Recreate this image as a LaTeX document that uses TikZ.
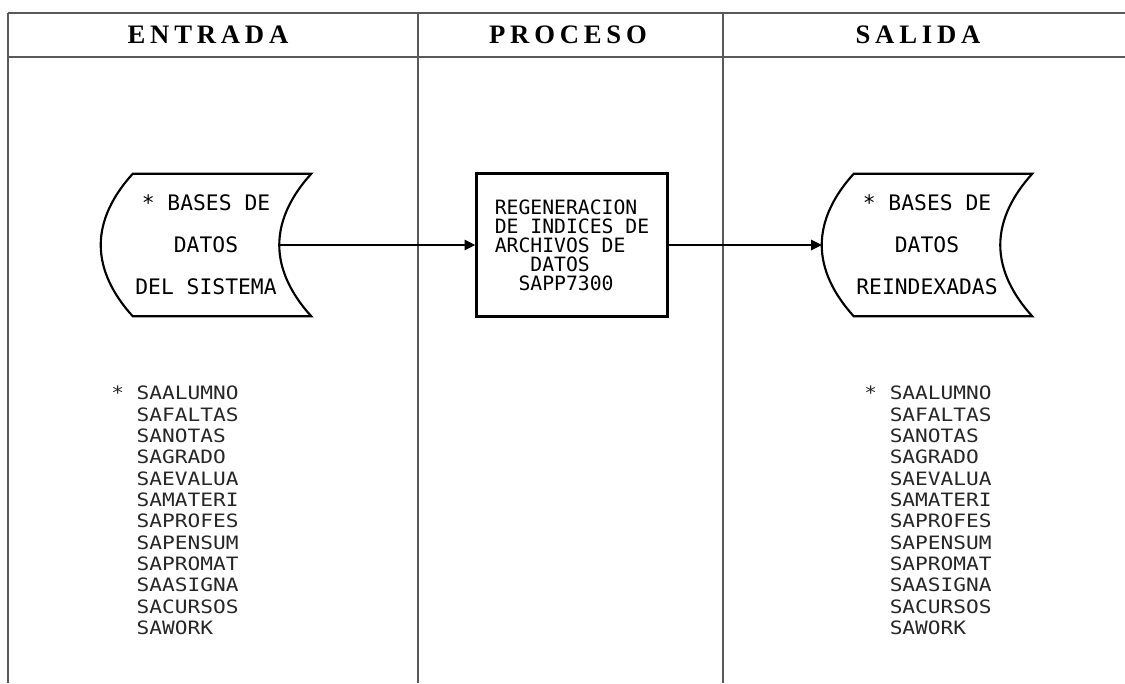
\documentclass[tikz,border=0pt]{standalone}
\usepackage{fontspec}
\usetikzlibrary{positioning,arrows.meta,calc}
\newfontfamily\plotfont{DejaVu Sans Mono}
\newfontfamily\plotancho[FakeStretch=1.15]{DejaVu Sans Mono}
\newfontfamily\titfont[LetterSpace=18]{Liberation Serif}
% outline of a stored-data symbol around a node
\newcommand{\bdforma}[1]{%
  \draw[bdline] ($(#1.north west)+(32,0)$) -- (#1.north east)
    .. controls +(-20,22) and +(0,-25) .. ($(#1.east)+(-32,0)$) coordinate (#1-r)
    .. controls +(0,25) and +(-20,-22) .. (#1.south east)
    -- ($(#1.south west)+(32,0)$)
    .. controls +(-20,-22) and +(0,25) .. (#1.west)
    .. controls +(0,-25) and +(-20,22) .. cycle;}
\tikzset{
  marco/.style={draw=black!65, line width=0.8pt},
  cab/.style={font=\titfont\bfseries\fontsize{20pt}{22pt}\selectfont, inner sep=0pt},
  bdnodo/.style={minimum width=157.5pt, minimum height=106.5pt, inner sep=0pt,
    align=center, font=\plotfont\fontsize{16pt}{31.5pt}\selectfont},
  bdline/.style={line width=1.6pt, draw=black},
  procb/.style={draw=black, line width=2pt, minimum width=143.25pt, minimum height=107.25pt,
    inner sep=0pt, align=left, font=\plotfont\fontsize{14.8pt}{14.2pt}\selectfont},
  lista/.style={anchor=north west, inner sep=0pt, align=left, text=black!85,
    font=\plotancho\fontsize{13.8pt}{16pt}\selectfont},
  flow/.style={-{Triangle[length=8pt,width=8pt]}, line width=0.8pt, draw=black},
}
\begin{document}
\begin{tikzpicture}[x=0.75pt, y=-0.75pt]
    \useasboundingbox (0,0) rectangle (1125,683);
    % frame and columns
    \draw[marco] (8,13) -- (1125,13);
    \draw[marco] (8,57) -- (1125,57);
    \draw[marco] (8,13) -- (8,683);
    \draw[marco] (418,13) -- (418,683);
    \draw[marco] (723,13) -- (723,683);
    % headers
    \node[cab] (hent) at (208,35) {ENTRADA};
    \node[cab] (hpro) at (568,35) {PROCESO};
    \node[cab] (hsal) at (918,35) {SALIDA};
    % symbols
    \node[bdnodo] (dbent) at (206,245) {* BASES DE\\DATOS\\DEL SISTEMA};
    \bdforma{dbent}
    \node[procb] (proc) at (572,245) {REGENERACION\\DE INDICES DE\\ARCHIVOS DE\\\phantom{XXX}DATOS\\\phantom{XX}SAPP7300};
    \node[bdnodo] (dbsal) at (927,245) {* BASES DE\\DATOS\\REINDEXADAS};
    \bdforma{dbsal}
    \draw[flow] (dbent-r) -- (proc.west);
    \draw[flow] (proc.east) -- (dbsal.west);
    % file lists
    \node[lista] (lent) at (111,386) {* SAALUMNO\\\phantom{* }SAFALTAS\\\phantom{* }SANOTAS\\\phantom{* }SAGRADO\\\phantom{* }SAEVALUA\\\phantom{* }SAMATERI\\\phantom{* }SAPROFES\\\phantom{* }SAPENSUM\\\phantom{* }SAPROMAT\\\phantom{* }SAASIGNA\\\phantom{* }SACURSOS\\\phantom{* }SAWORK};
    \node[lista] (lsal) at (864,386) {* SAALUMNO\\\phantom{* }SAFALTAS\\\phantom{* }SANOTAS\\\phantom{* }SAGRADO\\\phantom{* }SAEVALUA\\\phantom{* }SAMATERI\\\phantom{* }SAPROFES\\\phantom{* }SAPENSUM\\\phantom{* }SAPROMAT\\\phantom{* }SAASIGNA\\\phantom{* }SACURSOS\\\phantom{* }SAWORK};
  \end{tikzpicture}
\end{document}
